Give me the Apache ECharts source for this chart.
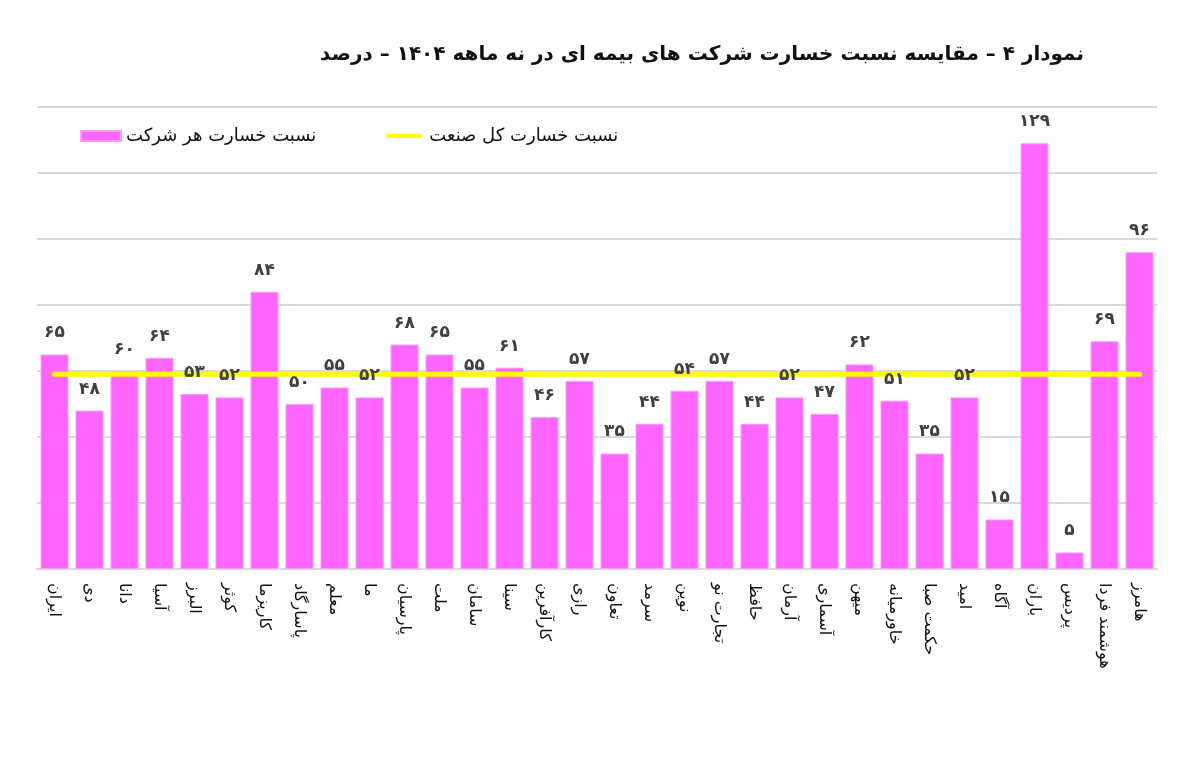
<!DOCTYPE html>
<html><head><meta charset="utf-8">
<script src="https://cdn.jsdelivr.net/npm/echarts@6/dist/echarts.min.js"></script>
<style>html,body{margin:0;padding:0;background:#fff}#c{width:1181px;height:760px}</style>
</head><body><div id="c"></div>
<script>
const categories = ['ایران','دی','دانا','آسیا','البرز','کوثر','کاریزما','پاسارگاد','معلم','ما','پارسیان','ملت','سامان','سینا','کارآفرین','رازی','تعاون','سرمد','نوین','تجارت نو','حافظ','آرمان','آسماری','میهن','خاورمیانه','حکمت صبا','امید','آگاه','باران','پردیس','هوشمند فردا','هامرز'];
const companyRatio = [65,48,60,64,53,52,84,50,55,52,68,65,55,61,46,57,35,44,54,57,44,52,47,62,51,35,52,15,129,5,69,96];
const industryValue = 59;
const industryRatio = categories.map(() => industryValue);
const seriesNames = ['نسبت خسارت هر شرکت','نسبت خسارت کل صنعت'];
const titleText = 'نمودار ۴ – مقایسه نسبت خسارت شرکت های بیمه ای در نه ماهه ۱۴۰۴ – درصد';

const faDigits = '۰۱۲۳۴۵۶۷۸۹';
const toFa = v => String(v).replace(/[0-9]/g, d => faDigits[+d]);

const chart = echarts.init(document.getElementById('c'));
chart.setOption({
  animation: false,
  backgroundColor: '#fff',
  textStyle: { fontFamily: 'DejaVu Sans' },
  title: {
    text: titleText, right: 92, top: 40,
    textStyle: { fontSize: 20, fontWeight: 'bold', color: '#111', fontFamily: 'DejaVu Sans' }
  },
  legend: {
    left: 75, top: 122, itemGap: 70, itemWidth: 40, itemHeight: 10,
    textStyle: { fontSize: 18, color: '#111' },
    data: [
      { name: seriesNames[0], icon: 'rect' },
      { name: seriesNames[1], icon: 'path://M0,0 L0,0 M2,3 L34,3 A2,2 0 0 1 34,7 L2,7 A2,2 0 0 1 2,3 Z M36,10 L36,10' }
    ]
  },
  grid: { left: 37, right: 24, top: 107, bottom: 191, containLabel: false },
  xAxis: {
    type: 'category', data: categories,
    axisTick: { show: false },
    axisLine: { lineStyle: { color: '#d9d9d9', width: 2 } },
    axisLabel: { rotate: -90, interval: 0, fontSize: 16, color: '#111', margin: 14 }
  },
  yAxis: {
    type: 'value', min: 0, max: 140, interval: 20,
    axisLabel: { show: false }, axisLine: { show: false }, axisTick: { show: false },
    splitLine: { lineStyle: { color: '#d9d9d9', width: 2 } }
  },
  series: [
    {
      name: seriesNames[0], type: 'bar', data: companyRatio, barCategoryGap: '20%', barGap: '-100%',
      itemStyle: { color: '#FF66FF', borderColor: '#FF99FF', borderWidth: 1 },
      z: 2
    },
    {
      name: seriesNames[1], type: 'line', data: industryRatio, symbol: 'none',
      lineStyle: { color: '#FFFF00', width: 5, cap: 'round' },
      itemStyle: { color: '#FFFF00' },
      z: 3
    },
    {
      name: 'labels', type: 'bar', data: companyRatio, barCategoryGap: '20%', barGap: '-100%',
      silent: true, itemStyle: { color: 'rgba(0,0,0,0)' },
      label: {
        show: true, position: 'top', distance: 13, fontSize: 17, fontWeight: 'bold',
        color: '#404040', formatter: p => toFa(p.value)
      },
      z: 4
    }
  ]
});
</script></body></html>
